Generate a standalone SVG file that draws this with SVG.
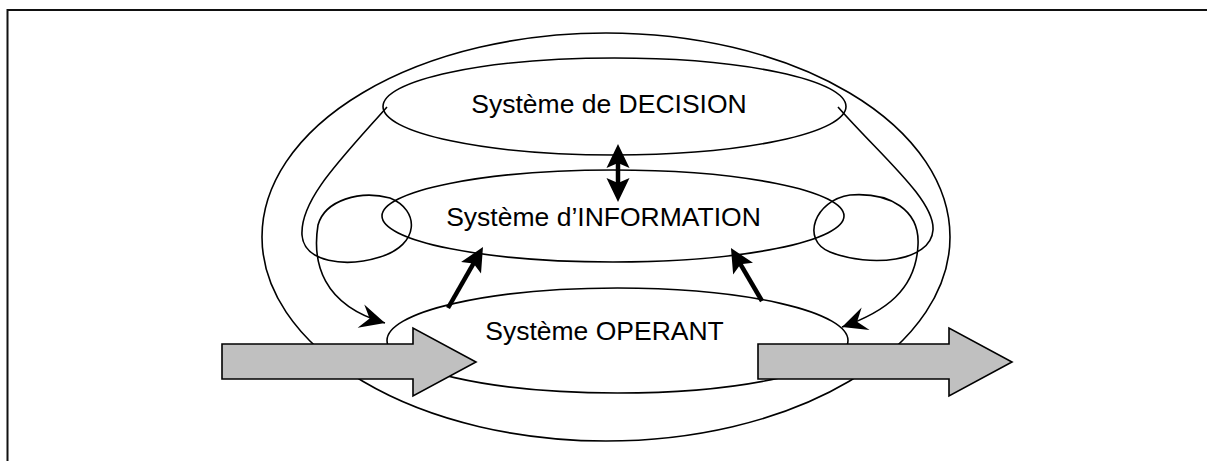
<svg xmlns="http://www.w3.org/2000/svg" width="1207" height="461" viewBox="0 0 1207 461">
<style>
.frame{fill:none;stroke:#111;stroke-width:2}
.ell{fill:none;stroke:#000;stroke-width:1.6}
.thin{fill:none;stroke:#000;stroke-width:1.6}
.thick{fill:none;stroke:#000;stroke-width:4.5}
.big{fill:#c0c0c0;stroke:#000;stroke-width:1.6;stroke-linejoin:miter}
.lbl{font-family:"Liberation Sans",Arial,sans-serif;font-size:26.5px;fill:#000;text-anchor:middle}
</style>
<defs>
<marker id="mThick" markerUnits="userSpaceOnUse" viewBox="-16 -13 28 26" refX="0" refY="0" markerWidth="28" markerHeight="26" orient="auto-start-reverse">
<path d="M10,0 L-14,-11.5 L-9,0 L-14,11.5 Z" fill="#000"/>
</marker>
<marker id="mThin" markerUnits="userSpaceOnUse" viewBox="-26 -14 28 28" refX="0" refY="0" markerWidth="28" markerHeight="28" orient="auto">
<path d="M0,0 L-25,-12 L-16,0 L-25,12 Z" fill="#000"/>
</marker>
</defs>
<rect class="frame" x="7.5" y="10" width="1215" height="470"/>
<g id="outer">
<ellipse class="ell" cx="606" cy="237" rx="344" ry="204"/>
</g>
<g id="decision">
<ellipse class="ell" cx="614.5" cy="106.5" rx="231.5" ry="48.5"/>
<text class="lbl" x="609" y="113">Système de DECISION</text>
</g>
<g id="information">
<ellipse class="ell" cx="613" cy="216" rx="231" ry="46"/>
<text class="lbl" x="603.5" y="226">Système d’INFORMATION</text>
</g>
<g id="operant">
<ellipse class="ell" cx="617.5" cy="340.5" rx="230.5" ry="52.5"/>
<text class="lbl" x="604.5" y="340">Système OPERANT</text>
</g>
<g id="connectors">
<path class="thin" d="M387,107 C340,160 300,200 302,235 C304,262 345,268 380,257 C420,245 420,210 390,198 C360,190 325,200 318,225 C312,262 322,305 385,323" marker-end="url(#mThin)"/>
<path class="thin" d="M838,107 C880,155 935,200 933,230 C931,262 870,268 830,252 C800,240 815,200 850,195 C890,192 920,210 918,245 C916,290 885,312 842,327" marker-end="url(#mThin)"/>
<line class="thick" x1="618" y1="154" x2="618" y2="192" marker-start="url(#mThick)" marker-end="url(#mThick)"/>
<line class="thick" x1="448" y1="308" x2="478" y2="255.7" marker-end="url(#mThick)"/>
<line class="thick" x1="762" y1="301" x2="736" y2="256.6" marker-end="url(#mThick)"/>
</g>
<g id="input-arrow">
<path class="big" d="M222,344 L413,344 L413,328 L476,362 L413,396 L413,379 L222,379 Z"/>
</g>
<g id="output-arrow">
<path class="big" d="M758,344 L949,344 L949,328 L1012,362 L949,396 L949,379 L758,379 Z"/>
</g>
</svg>
